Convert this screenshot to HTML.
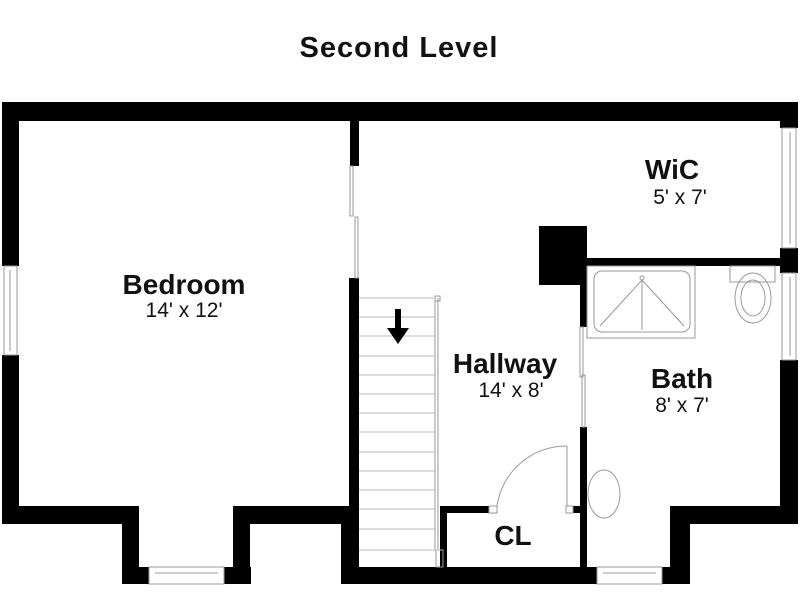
<!DOCTYPE html>
<html><head><meta charset="utf-8"><style>
html,body{margin:0;padding:0;background:#fff;width:800px;height:600px;overflow:hidden}
svg{display:block}
text{font-family:"Liberation Sans",Arial,sans-serif;fill:#111}
.b{font-weight:bold;font-size:28px}
.s{font-size:21px}
</style></head><body>
<svg width="800" height="600" viewBox="0 0 800 600">
<text x="399" y="57" text-anchor="middle" class="b" style="font-size:29px;letter-spacing:1px">Second Level</text>
<g fill="#000">
<rect x="2" y="102" width="796" height="19"/>
<rect x="2" y="102" width="17" height="164"/>
<rect x="2" y="355" width="17" height="169"/>
<rect x="2" y="506" width="137" height="18"/>
<rect x="122" y="506" width="17" height="78"/>
<rect x="122" y="567" width="27" height="17"/>
<rect x="224" y="567" width="27" height="17"/>
<rect x="233" y="506" width="17" height="78"/>
<rect x="233" y="506" width="126" height="18"/>
<rect x="350" y="121" width="9" height="45"/>
<rect x="349" y="278" width="10" height="306"/>
<rect x="341" y="506" width="18" height="78"/>
<rect x="341" y="567" width="256" height="17"/>
<rect x="662" y="567" width="28" height="17"/>
<rect x="670" y="506" width="20" height="78"/>
<rect x="670" y="506" width="128" height="18"/>
<rect x="780" y="102" width="18" height="26"/>
<rect x="780" y="248" width="18" height="25"/>
<rect x="780" y="360" width="18" height="164"/>
<rect x="580" y="258" width="200" height="8"/>
<rect x="539" y="226" width="48" height="59"/>
<rect x="580" y="226" width="7" height="101"/>
<rect x="580" y="427" width="7" height="157"/>
<rect x="440" y="506" width="7" height="61"/>
<rect x="440" y="506" width="49" height="7"/>
<rect x="573" y="506" width="14" height="7"/>
</g>
<g fill="none" stroke="#999" stroke-width="1">
<rect x="4" y="266" width="13" height="89"/><line x1="10" y1="270" x2="10" y2="351"/>
<rect x="149" y="567" width="75" height="17"/><line x1="155" y1="573" x2="218" y2="573"/>
<rect x="597" y="567" width="65" height="17"/><line x1="603" y1="573" x2="656" y2="573"/>
<rect x="782" y="128" width="14" height="120"/><line x1="790" y1="132" x2="790" y2="244"/>
<rect x="782" y="273" width="14" height="87"/><line x1="790" y1="277" x2="790" y2="356"/>
<rect x="350" y="166" width="3" height="50"/><rect x="355" y="217" width="3" height="61"/>
<rect x="580" y="327" width="3" height="50"/><rect x="582" y="375" width="3" height="52"/>
<line x1="435" y1="298" x2="435" y2="550"/><line x1="438" y1="298" x2="438" y2="550"/>
<rect x="435" y="296" width="5" height="5"/>
<rect x="436" y="550" width="7" height="17"/>
<rect x="489" y="506" width="8" height="7"/>
<rect x="566" y="506" width="7" height="7"/>
<line x1="567" y1="446" x2="567" y2="506"/>
<path d="M567 446 A70 70 0 0 0 497 506"/>
<rect x="587" y="266" width="108" height="72"/>
<rect x="594" y="271" width="96" height="61" rx="8"/>
<line x1="642" y1="280" x2="600" y2="326"/><line x1="642" y1="280" x2="684" y2="326"/><line x1="642" y1="280" x2="642" y2="330"/>
<circle cx="642" cy="278" r="2"/>
<rect x="730" y="266" width="45" height="16"/>
<ellipse cx="753" cy="298" rx="18" ry="25"/>
<ellipse cx="753" cy="298" rx="12" ry="18"/>
<ellipse cx="604" cy="494" rx="16" ry="24"/>
</g>
<g stroke="#bbb" stroke-width="1">
<line x1="359" y1="298" x2="435" y2="298"/><line x1="359" y1="317" x2="435" y2="317"/>
<line x1="359" y1="336" x2="435" y2="336"/><line x1="359" y1="356" x2="435" y2="356"/>
<line x1="359" y1="375" x2="435" y2="375"/><line x1="359" y1="394" x2="435" y2="394"/>
<line x1="359" y1="413" x2="435" y2="413"/><line x1="359" y1="432" x2="435" y2="432"/>
<line x1="359" y1="452" x2="435" y2="452"/><line x1="359" y1="471" x2="435" y2="471"/>
<line x1="359" y1="490" x2="435" y2="490"/><line x1="359" y1="509" x2="435" y2="509"/>
<line x1="359" y1="529" x2="435" y2="529"/><line x1="359" y1="550" x2="443" y2="550"/>
</g>
<rect x="395" y="309" width="6" height="21" fill="#000"/>
<polygon points="387,328 409,328 398,344" fill="#000"/>
<text x="184" y="294" text-anchor="middle" class="b">Bedroom</text>
<text x="184" y="317" text-anchor="middle" class="s">14' x 12'</text>
<text x="672" y="179" text-anchor="middle" class="b">WiC</text>
<text x="680" y="204" text-anchor="middle" class="s">5' x 7'</text>
<text x="505" y="373" text-anchor="middle" class="b">Hallway</text>
<text x="511" y="397" text-anchor="middle" class="s">14' x 8'</text>
<text x="682" y="388" text-anchor="middle" class="b">Bath</text>
<text x="682" y="412" text-anchor="middle" class="s">8' x 7'</text>
<text x="513" y="545" text-anchor="middle" class="b">CL</text>
</svg>
</body></html>
